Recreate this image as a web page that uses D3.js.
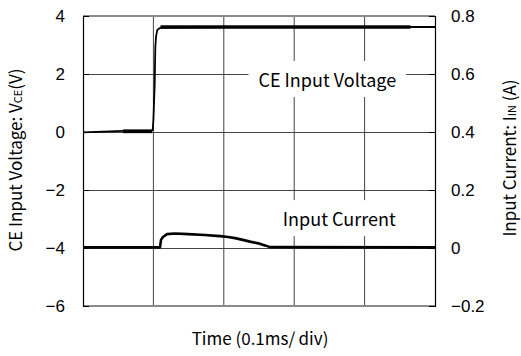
<!DOCTYPE html>
<html>
<head>
<meta charset="utf-8">
<script src="https://cdn.jsdelivr.net/npm/d3@7"></script>
<style>
  html, body { margin: 0; padding: 0; background: #fff; }
  svg { display: block; }
  .lbl { font-family: "Noto Sans CJK JP", "Noto Sans", sans-serif; fill: #000; }
  .num { font-family: "Liberation Sans", Arial, sans-serif; fill: #000; }
</style>
</head>
<body>
<svg id="chart" width="521" height="356"></svg>
<script>
// Time axis in divisions (0.1 ms / div)
const timeDomain = [0, 5];
const timeGrid = [1, 2, 3, 4];

// Left axis: CE input voltage (V)
const voltTicks = [4, 2, 0, -2, -4, -6];
const voltTickLabels = ["4", "2", "0", "\u22122", "\u22124", "\u22126"];

// Right axis: input current (A)
const currTicks = [0.8, 0.6, 0.4, 0.2, 0, -0.2];
const currTickLabels = ["0.8", "0.6", "0.4", "0.2", "0", "\u22120.2"];

// CE voltage trace [time div, volts]
const voltTime = [0, 0.57, 0.98, 0.99, 1.00, 1.018, 1.027, 1.037, 1.055, 1.094, 1.31, 2.0, 4.65, 5.0];
const voltValue = [-0.01, 0.04, 0.05, 0.07, 0.41, 1.62, 2.90, 3.28, 3.52, 3.59, 3.60, 3.62, 3.62, 3.62];

// Noise envelope of the voltage trace [start, end, low, high]
const voltNoise = [
  [0.57, 0.98, -0.04, 0.09],
  [1.10, 4.65, 3.56, 3.68]
];

// Input current trace [time div, amps]
const currTime = [0, 1.094, 1.108, 1.136, 1.193, 1.307, 1.49, 1.733, 1.946, 2.06, 2.16, 2.27, 2.37, 2.49, 2.585, 2.656, 5.0];
const currValue = [0.002, 0.002, 0.028, 0.038, 0.048, 0.050, 0.048, 0.045, 0.041, 0.038, 0.034, 0.028, 0.022, 0.016, 0.009, 0.003, 0.002];

const svg = d3.select("#chart");
const L = 83, R = 435, T = 16, B = 306;

const x = d3.scaleLinear().domain(timeDomain).range([L, R]);
const yV = d3.scaleLinear().domain([-6, 4]).range([B, T]);
const yI = d3.scaleLinear().domain([-0.2, 0.8]).range([B, T]);

// grid
const grid = svg.append("g");
grid.selectAll("line.v").data(timeGrid).join("line")
  .attr("x1", d => x(d)).attr("x2", d => x(d))
  .attr("y1", T).attr("y2", B)
  .attr("stroke", "#444").attr("stroke-width", 1);
grid.selectAll("line.h").data(voltTicks.filter(v => v < 4 && v > -6)).join("line")
  .attr("x1", L).attr("x2", R)
  .attr("y1", d => Math.round(yV(d)) + 0.5).attr("y2", d => Math.round(yV(d)) + 0.5)
  .attr("stroke", "#444").attr("stroke-width", 1);

// frame
svg.append("line").attr("x1", L).attr("x2", R).attr("y1", T).attr("y2", T)
  .attr("stroke", "#8a8a8a").attr("stroke-width", 2);
svg.append("line").attr("x1", L).attr("x2", R).attr("y1", B).attr("y2", B)
  .attr("stroke", "#8a8a8a").attr("stroke-width", 2);

// axes with inward ticks
const axL = d3.axisLeft(yV).tickValues(voltTicks).tickSize(-6).tickFormat("");
const axR = d3.axisRight(yI).tickValues(currTicks).tickSize(-6).tickFormat("");
const gL = svg.append("g").attr("transform", `translate(${L},0)`).call(axL);
const gR = svg.append("g").attr("transform", `translate(${R},0)`).call(axR);
[gL, gR].forEach(g => {
  g.select(".domain").attr("stroke", "#000").attr("stroke-width", 1.2);
  g.selectAll(".tick line").attr("stroke", "#000");
});

// tick labels
svg.append("g").selectAll("text").data(voltTicks).join("text")
  .attr("class", "num")
  .attr("x", L - 18).attr("y", d => yV(d))
  .attr("text-anchor", "end").attr("dominant-baseline", "central")
  .attr("font-size", 17)
  .text((d, i) => voltTickLabels[i]);
svg.append("g").selectAll("text").data(currTicks).join("text")
  .attr("class", "num")
  .attr("x", R + 16).attr("y", d => yI(d))
  .attr("text-anchor", "start").attr("dominant-baseline", "central")
  .attr("font-size", 17)
  .text((d, i) => currTickLabels[i]);

// in-plot series labels on white boxes
function boxedLabel(t, yPix, txt) {
  const g = svg.append("g");
  const rect = g.append("rect").attr("fill", "#fff");
  const tx = g.append("text").attr("class", "lbl")
    .attr("x", x(t)).attr("y", yPix)
    .attr("text-anchor", "middle").attr("dominant-baseline", "central")
    .attr("font-size", 18).text(txt);
  const bb = tx.node().getBBox();
  rect.attr("x", bb.x - 10).attr("y", bb.y - 5)
    .attr("width", bb.width + 20).attr("height", bb.height + 10);
}
boxedLabel(3.47, yV(1.83), "CE Input Voltage");
boxedLabel(3.64, yI(0.103), "Input Current");

// voltage noise bands
svg.append("g").selectAll("rect").data(voltNoise).join("rect")
  .attr("x", d => x(d[0])).attr("width", d => x(d[1]) - x(d[0]))
  .attr("y", d => yV(d[3])).attr("height", d => yV(d[2]) - yV(d[3]))
  .attr("fill", "#000");

// voltage trace
svg.append("path")
  .datum(voltTime.map((t, i) => [t, voltValue[i]]))
  .attr("fill", "none").attr("stroke", "#000").attr("stroke-width", 1.8)
  .attr("stroke-linejoin", "round")
  .attr("d", d3.line().x(d => x(d[0])).y(d => yV(d[1])));

// current trace
svg.append("path")
  .datum(currTime.map((t, i) => [t, currValue[i]]))
  .attr("fill", "none").attr("stroke", "#000").attr("stroke-width", 2.6)
  .attr("stroke-linejoin", "round")
  .attr("d", d3.line().x(d => x(d[0])).y(d => yI(d[1])));

// axis titles
const left = svg.append("text").attr("class", "lbl")
  .attr("transform", "translate(22,160) rotate(-90)")
  .attr("text-anchor", "middle").attr("font-size", 17);
left.append("tspan").text("CE Input Voltage: V");
left.append("tspan").attr("font-size", 11).text("CE");
left.append("tspan").text("(V)");

const right = svg.append("text").attr("class", "lbl")
  .attr("transform", "translate(516,158) rotate(-90)")
  .attr("text-anchor", "middle").attr("font-size", 17);
right.append("tspan").text("Input Current: I");
right.append("tspan").attr("font-size", 11).text("IN");
right.append("tspan").text(" (A)");

svg.append("text").attr("class", "lbl")
  .attr("x", (L + R) / 2 + 1).attr("y", 345)
  .attr("text-anchor", "middle").attr("font-size", 17)
  .text("Time (0.1ms/\u2009div)");
</script>
</body>
</html>
